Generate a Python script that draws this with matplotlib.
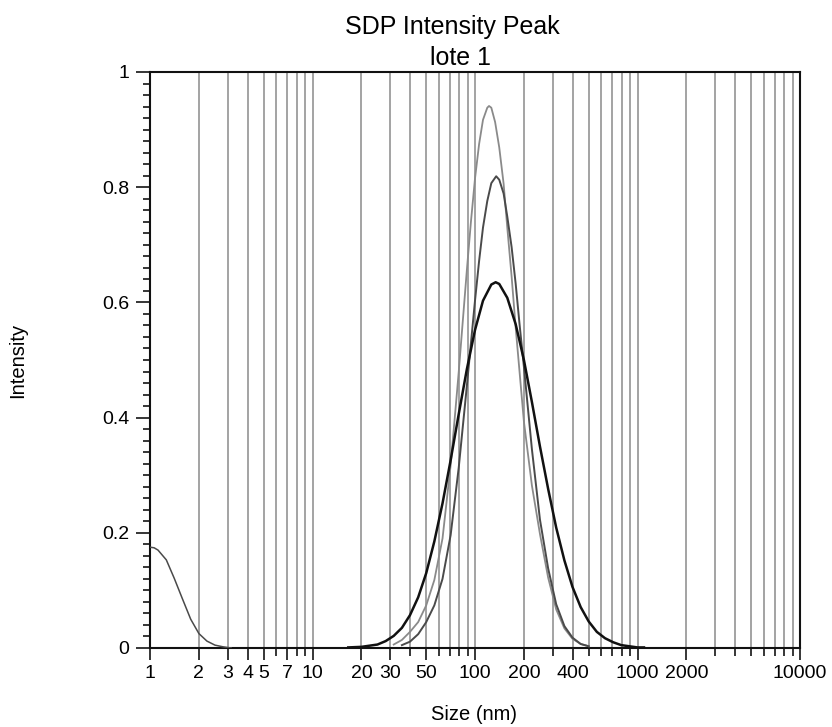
import matplotlib
matplotlib.use('Agg')
import matplotlib.pyplot as plt
from matplotlib.ticker import FixedLocator, MultipleLocator, NullFormatter

plt.rcParams['font.family'] = ['Liberation Sans', 'DejaVu Sans']

# size (nm) / intensity
size_small = [1.0, 1.06, 1.12, 1.26, 1.41, 1.58, 1.78, 2.0, 2.24, 2.51, 2.82, 3.16]
int_small = [0.175, 0.174, 0.170, 0.153, 0.121, 0.086, 0.050, 0.025, 0.012, 0.005, 0.002, 0.0]

size_run1 = [31.6, 35.5, 39.8, 44.7, 50.1, 56.2, 63.1, 70.8, 79.4, 89.1, 94.4, 100, 106, 112,
             119, 122, 126, 133, 141, 150, 158, 168, 178, 200, 224, 251, 282, 316, 355, 398, 447, 501]
int_run1 = [0.006, 0.014, 0.028, 0.045, 0.074, 0.118, 0.190, 0.317, 0.479, 0.656, 0.740, 0.815, 0.875, 0.917,
            0.938, 0.941, 0.938, 0.913, 0.869, 0.806, 0.730, 0.645, 0.556, 0.393, 0.282, 0.198, 0.122, 0.067,
            0.034, 0.016, 0.007, 0.003]

size_run2 = [35.5, 39.8, 44.7, 50.1, 56.2, 63.1, 70.8, 79.4, 89.1, 100, 106, 112, 119, 126,
             135, 141, 150, 158, 168, 178, 188, 200, 224, 251, 282, 316, 355, 398, 447, 501]
int_run2 = [0.005, 0.011, 0.024, 0.045, 0.074, 0.120, 0.196, 0.313, 0.455, 0.603, 0.672, 0.730, 0.776, 0.807,
            0.819, 0.813, 0.789, 0.749, 0.696, 0.632, 0.562, 0.488, 0.345, 0.223, 0.138, 0.076, 0.038, 0.018,
            0.007, 0.003]

size_run3 = [16.6, 20.0, 25.1, 28.2, 31.6, 35.5, 39.8, 44.7, 50.1, 56.2, 63.1, 70.8, 79.4, 89.1,
             100, 112, 126, 134, 141, 158, 178, 200, 224, 251, 282, 316, 355, 398, 447, 501,
             562, 631, 708, 794, 891, 1000, 1096]
int_run3 = [0.001, 0.002, 0.006, 0.012, 0.021, 0.035, 0.057, 0.088, 0.130, 0.185, 0.251, 0.326, 0.406, 0.484,
            0.552, 0.603, 0.631, 0.635, 0.632, 0.608, 0.562, 0.500, 0.427, 0.350, 0.276, 0.209, 0.152, 0.106, 0.071, 0.046,
            0.028, 0.017, 0.010, 0.005, 0.003, 0.001, 0.001]

xticks_major = [1, 2, 3, 4, 5, 7, 10, 20, 30, 50, 100, 200, 400, 1000, 2000, 10000]
xtick_labels = ['1', '2', '3', '4', '5', '7', '10', '20', '30', '50', '100', '200', '400', '1000', '2000', '10000']
yticks = [0, 0.2, 0.4, 0.6, 0.8, 1.0]
ytick_labels = ['0', '0.2', '0.4', '0.6', '0.8', '1']

W, H = 832, 727
fig = plt.figure(figsize=(W / 100, H / 100), dpi=100)
ax = fig.add_axes([150 / W, 1 - 648 / H, 650 / W, 576 / H])

# vertical grid at every 2..9 x decade
grid_x = [m * 10 ** d for d in range(4) for m in range(2, 11)]
for gx in grid_x:
    if gx < 10000:
        ax.axvline(gx, color='#939393', lw=1.2, zorder=1)

ax.plot(size_small, int_small, color='#4a4a4a', lw=1.1, zorder=3)
ax.plot(size_run1, int_run1, color='#8a8a8a', lw=1.3, zorder=3)
ax.plot(size_run2, int_run2, color='#4a4a4a', lw=1.4, zorder=3)
ax.plot(size_run3, int_run3, color='#111111', lw=1.8, zorder=4)

ax.set_xscale('log')
ax.set_xlim(1, 10000)
ax.set_ylim(0, 1)

ax.xaxis.set_major_locator(FixedLocator(xticks_major))
ax.set_xticklabels(xtick_labels)
minor_x = [g for g in grid_x if g not in xticks_major]
ax.xaxis.set_minor_locator(FixedLocator(minor_x))
ax.xaxis.set_minor_formatter(NullFormatter())

ax.set_yticks(yticks)
ax.set_yticklabels(ytick_labels)
ax.yaxis.set_minor_locator(MultipleLocator(0.02))

ax.tick_params(axis='x', which='major', length=8.6, width=1.1, pad=4, labelsize=14, direction='out')
ax.tick_params(axis='x', which='minor', length=5.5, width=1.1, direction='out')
ax.tick_params(axis='y', which='major', length=10, width=1.1, pad=5, labelsize=14, direction='out')
ax.tick_params(axis='y', which='minor', length=5, width=1.1, direction='out')

for sp in ax.spines.values():
    sp.set_linewidth(1.5)
    sp.set_color('#111111')

fig.text(452 / W, 1 - 34 / H, 'SDP Intensity Peak', ha='center', va='baseline', fontsize=18)
fig.text(460 / W, 1 - 65 / H, 'lote 1', ha='center', va='baseline', fontsize=18)
fig.text(474 / W, 1 - 720 / H, 'Size (nm)', ha='center', va='baseline', fontsize=14.5)
fig.text(18 / W, 1 - 360 / H, 'Intensity', ha='center', va='center', rotation=90, fontsize=14.5)

fig.savefig('out.png', dpi=100)
